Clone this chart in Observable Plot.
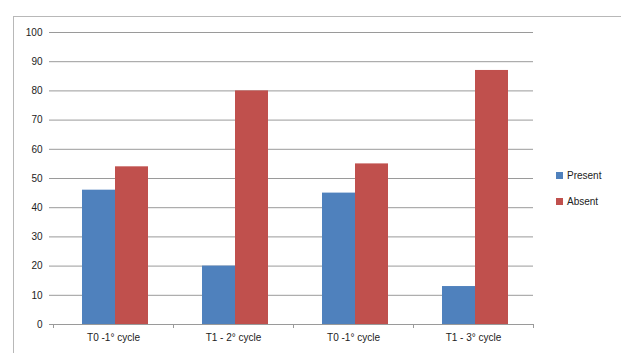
<!DOCTYPE html>
<html><head><meta charset="utf-8">
<script src="https://cdn.jsdelivr.net/npm/d3@7"></script>
<script src="https://cdn.jsdelivr.net/npm/@observablehq/plot@0.6"></script>
<style>
body{margin:0;background:#fff;font-family:"Liberation Sans",Arial,sans-serif;}
#wrap{position:relative;width:621px;height:353px;overflow:hidden;}
#border{position:absolute;left:13px;top:16px;width:700px;height:400px;border-left:1px solid #b8b8b8;border-top:1px solid #b8b8b8;}
#legend{position:absolute;left:556px;top:162px;font-size:10px;color:#222;}
.item{display:flex;align-items:center;height:26px;}
.sw{width:7px;height:7px;margin-right:4px;}
</style></head>
<body><div id="wrap"><div id="border"></div><div id="chart"></div><div id="legend"></div></div>
<script>
const categories = ["c1","c2","c3","c4"];
const categoryLabels = ["T0 -1° cycle","T1 - 2° cycle","T0 -1° cycle","T1 - 3° cycle"];
const series = ["Present","Absent"];
const present = [46,20,45,13];
const absent = [54,80,55,87];
const colors = ["#4F81BD","#C0504D"];
const yTicks = [0,10,20,30,40,50,60,70,80,90,100];

const rowsP = categories.map((c,i)=>({cat:c, value:present[i]}));
const rowsA = categories.map((c,i)=>({cat:c, value:absent[i]}));
const labelOf = Object.fromEntries(categories.map((c,i)=>[c,categoryLabels[i]]));

const plot = Plot.plot({
  width:621, height:353,
  marginLeft:53, marginRight:88, marginTop:32, marginBottom:29,
  style:{fontFamily:"Liberation Sans, Arial, sans-serif", fontSize:"10px", color:"#222", background:"transparent"},
  x:{domain:categories, padding:0, label:null},
  y:{domain:[0,100], label:null},
  marks:[
    Plot.ruleY(yTicks.slice(1), {y:d=>d, stroke:"#9a9a9a", strokeWidth:1}),
    Plot.barY(rowsP, {x:"cat", y:"value", fill:colors[0], insetLeft:29, insetRight:58}),
    Plot.barY(rowsA, {x:"cat", y:"value", fill:colors[1], insetLeft:62, insetRight:25}),
    Plot.ruleY([0], {stroke:"#9a9a9a"}),
    Plot.ruleX(categories, {x:d=>d, dx:-60, y1:0, y2:0, insetBottom:-4, stroke:"#9a9a9a"}),
    Plot.ruleX([categories[categories.length-1]], {x:d=>d, dx:60, y1:0, y2:0, insetBottom:-4, stroke:"#9a9a9a"}),
    Plot.axisY({ticks:yTicks, tickSize:4, tickPadding:7, stroke:"#9a9a9a"}),
    Plot.ruleX([0], {frameAnchor:"left", stroke:"#b0b0b0", y1:0, y2:100}),
    Plot.axisX({tickSize:0, tickPadding:9, tickFormat:d=>labelOf[d]})
  ]
});
document.getElementById("chart").appendChild(plot);

const lg = document.getElementById("legend");
series.forEach((s,i)=>{
  const it = document.createElement("div"); it.className="item";
  const sw = document.createElement("div"); sw.className="sw"; sw.style.background=colors[i];
  const t = document.createElement("span"); t.textContent=s;
  it.appendChild(sw); it.appendChild(t); lg.appendChild(it);
});
</script></body></html>
